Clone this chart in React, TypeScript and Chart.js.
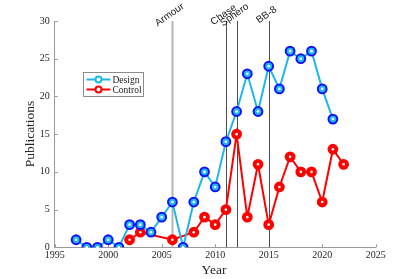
import React, { useEffect, useRef } from "react";
import { Chart, registerables } from "chart.js";

Chart.register(...registerables);

const designYears = [1997, 1998, 1999, 2000, 2001, 2002, 2003, 2004, 2005, 2006, 2007, 2008, 2009, 2010, 2011, 2012, 2013, 2014, 2015, 2016, 2017, 2018, 2019, 2020, 2021];
const designValues = [1, 0, 0, 1, 0, 3, 3, 2, 4, 6, 0, 6, 10, 8, 14, 18, 23, 18, 24, 21, 26, 25, 26, 21, 17];
const controlYears = [2002, 2003, 2006, 2008, 2009, 2010, 2011, 2012, 2013, 2014, 2015, 2016, 2017, 2018, 2019, 2020, 2021, 2022];
const controlValues = [1, 2, 1, 2, 4, 3, 5, 15, 4, 11, 3, 8, 12, 10, 10, 6, 13, 11];
const eventNames = ["Armour", "Chase", "Sphero", "BB-8"];
const eventYears = [2006, 2011, 2012, 2015];
const xTicks = [1995, 2000, 2005, 2010, 2015, 2020, 2025];
const yTicks = [0, 5, 10, 15, 20, 25, 30];

const SERIF = '"Liberation Serif", "DejaVu Serif", serif';
const SANS = '"Liberation Sans", Arial, sans-serif';
const CYAN = "#1fb7ea";
const BLUE = "#1010ff";
const RED = "#ff0000";

const decorPlugin = {
  id: "decor",
  beforeDatasetsDraw(chart: any) {
    const ctx = chart.ctx;
    const xs = chart.scales.x;
    const ys = chart.scales.y;
    const a = chart.chartArea;
    ctx.save();
    ctx.strokeStyle = "#9a9a9a";
    ctx.lineWidth = 1;
    xTicks.forEach((t) => {
      const x = Math.round(xs.getPixelForValue(t)) + 0.5;
      ctx.beginPath();
      ctx.moveTo(x, a.bottom);
      ctx.lineTo(x, a.bottom - 3);
      ctx.stroke();
    });
    yTicks.forEach((t) => {
      const y = Math.round(ys.getPixelForValue(t)) + 0.5;
      ctx.beginPath();
      ctx.moveTo(a.left, y);
      ctx.lineTo(a.left + 3, y);
      ctx.stroke();
    });
    eventYears.forEach((yr, i) => {
      const x = Math.round(xs.getPixelForValue(yr)) + 0.5;
      const top = ys.getPixelForValue(30);
      const bottom = ys.getPixelForValue(0);
      ctx.strokeStyle = i === 0 ? "#b5b5b5" : "#4d4d4d";
      ctx.lineWidth = i === 0 ? 2 : 1;
      ctx.beginPath();
      ctx.moveTo(x, top);
      ctx.lineTo(x, bottom);
      ctx.stroke();
      ctx.save();
      ctx.translate(x, top - 2);
      ctx.rotate((-35 * Math.PI) / 180);
      ctx.font = `10px ${SANS}`;
      ctx.fillStyle = "#1a1a1a";
      ctx.textAlign = "center";
      ctx.textBaseline = "bottom";
      ctx.fillText(eventNames[i], 0, 0);
      ctx.restore();
    });
    ctx.fillStyle = "#262626";
    ctx.font = `13.5px ${SERIF}`;
    ctx.textAlign = "center";
    ctx.textBaseline = "middle";
    ctx.fillText("Year", 214, 270);
    ctx.save();
    ctx.translate(30, 134);
    ctx.rotate(-Math.PI / 2);
    ctx.fillText("Publications", 0, 0);
    ctx.restore();
    ctx.restore();
  },
  afterDatasetsDraw(chart: any) {
    const ctx = chart.ctx;
    ctx.save();
    ctx.fillStyle = "#ffffff";
    chart.data.datasets.forEach((_: any, di: number) => {
      const meta = chart.getDatasetMeta(di);
      meta.data.forEach((pt: any) => {
        ctx.beginPath();
        ctx.arc(pt.x, pt.y, 1.3, 0, Math.PI * 2);
        ctx.fill();
      });
    });
    const lx = 83.5, ly = 72.5, lw = 60, lh = 24;
    ctx.fillStyle = "#ffffff";
    ctx.fillRect(lx, ly, lw, lh);
    ctx.strokeStyle = "#8c8c8c";
    ctx.lineWidth = 1;
    ctx.strokeRect(lx, ly, lw, lh);
    const items = [
      { label: "Design", color: CYAN, y: ly + 7 },
      { label: "Control", color: RED, y: ly + 17 },
    ];
    items.forEach((it) => {
      ctx.strokeStyle = it.color;
      ctx.lineWidth = 2;
      ctx.beginPath();
      ctx.moveTo(lx + 3, it.y);
      ctx.lineTo(lx + 27, it.y);
      ctx.stroke();
      ctx.beginPath();
      ctx.arc(lx + 15, it.y, 3, 0, Math.PI * 2);
      ctx.fillStyle = "#ffffff";
      ctx.fill();
      ctx.stroke();
      ctx.fillStyle = "#1a1a1a";
      ctx.font = `9.5px ${SERIF}`;
      ctx.textAlign = "left";
      ctx.textBaseline = "middle";
      ctx.fillText(it.label, lx + 29, it.y + 0.5);
    });
    ctx.restore();
  },
};

export default function App() {
  const ref = useRef<HTMLCanvasElement>(null);
  useEffect(() => {
    if (!ref.current) return;
    const chart = new Chart(ref.current, {
      type: "line",
      data: {
        datasets: [
          {
            label: "Design",
            data: designYears.map((x, i) => ({ x, y: designValues[i] })),
            borderColor: CYAN,
            borderWidth: 2,
            pointRadius: 4.4,
            pointBorderWidth: 2,
            pointBorderColor: BLUE,
            pointBackgroundColor: CYAN,
            tension: 0,
          },
          {
            label: "Control",
            data: controlYears.map((x, i) => ({ x, y: controlValues[i] })),
            borderColor: RED,
            borderWidth: 2,
            pointRadius: 4.4,
            pointBorderWidth: 2,
            pointBorderColor: RED,
            pointBackgroundColor: RED,
            tension: 0,
          },
        ],
      },
      options: {
        animation: false,
        responsive: false,
        events: [],
        layout: { padding: { left: 0, right: 39.3, top: 21, bottom: 0 } },
        plugins: { legend: { display: false }, tooltip: { enabled: false } },
        scales: {
          x: {
            type: "linear",
            min: 1995,
            max: 2025,
            afterBuildTicks: (s: any) => {
              s.ticks = xTicks.map((v) => ({ value: v }));
            },
            afterFit: (s: any) => {
              s.height = 31.7;
            },
            ticks: {
              callback: (v: any) => String(v),
              font: { family: SERIF, size: 10 },
              color: "#262626",
              padding: 2,
              maxRotation: 0,
              autoSkip: false,
            },
            grid: { drawOnChartArea: false, drawTicks: false },
            border: { display: true, color: "#9a9a9a", width: 1 },
          },
          y: {
            type: "linear",
            min: 0,
            max: 30,
            afterBuildTicks: (s: any) => {
              s.ticks = yTicks.map((v) => ({ value: v }));
            },
            afterFit: (s: any) => {
              s.width = 54.7;
            },
            ticks: {
              callback: (v: any) => String(v),
              font: { family: SERIF, size: 10 },
              color: "#262626",
              padding: 5,
            },
            grid: { drawOnChartArea: false, drawTicks: false },
            border: { display: true, color: "#9a9a9a", width: 1 },
          },
        },
      },
      plugins: [decorPlugin],
    } as any);
    return () => chart.destroy();
  }, []);
  return (
    <div style={{ position: "fixed", left: 0, top: 0, width: 415, height: 279, background: "#fff" }}>
      <canvas ref={ref} width={415} height={279} />
    </div>
  );
}
